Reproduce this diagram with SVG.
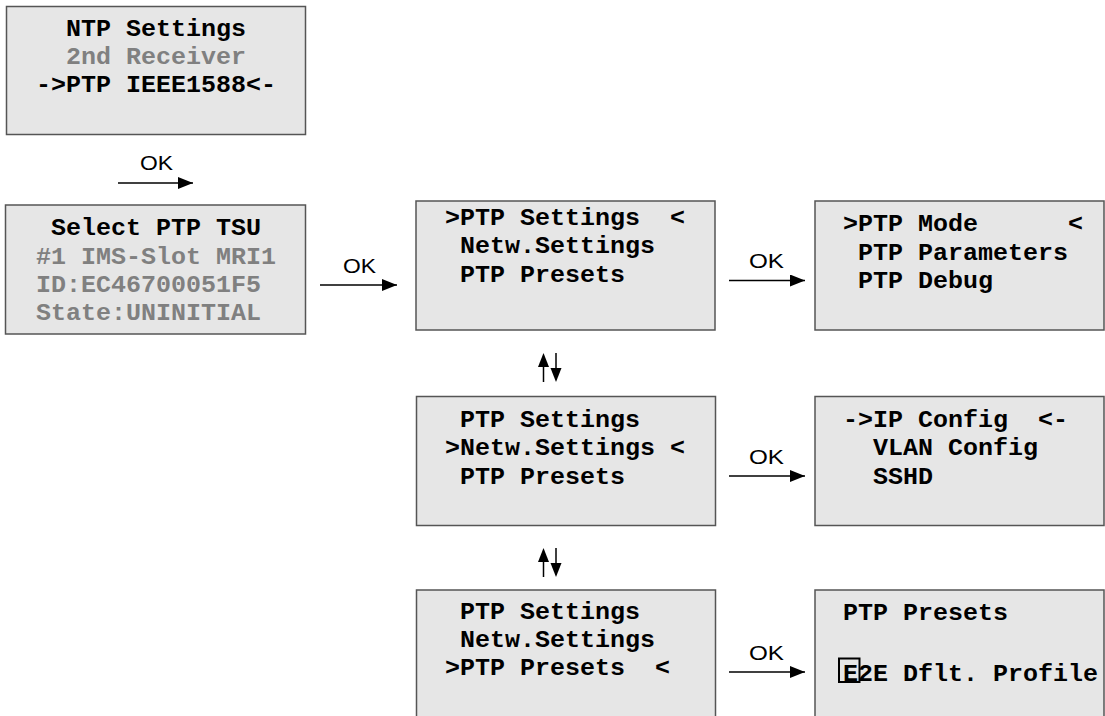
<svg xmlns="http://www.w3.org/2000/svg" width="1105" height="716" viewBox="0 0 1105 716">
<style>
.box{fill:#e6e6e6;stroke:#555;stroke-width:1.5}
.t{font-family:"Liberation Mono","Courier New",monospace;font-weight:bold;font-size:23px;fill:#000}
.g{fill:#808080}
.ok{font-family:"Liberation Sans",Arial,sans-serif;font-size:21px;fill:#000}
.ln{stroke:#000;stroke-width:1.5;fill:none}
</style>
<defs>
<marker id="ah" markerUnits="userSpaceOnUse" markerWidth="16" markerHeight="12" refX="15" refY="6" orient="auto">
<path d="M0,0 L15,6 L0,12 Z" fill="#000"/>
</marker>
</defs>
<rect width="1105" height="716" fill="#fff"/>
<g id="n1">
<rect class="box" x="6.5" y="6.5" width="299" height="128"/>
<text class="t" x="66" y="36" textLength="180" lengthAdjust="spacingAndGlyphs">NTP Settings</text>
<text class="t g" x="66" y="64" textLength="180" lengthAdjust="spacingAndGlyphs">2nd Receiver</text>
<text class="t" x="36" y="92" textLength="240" lengthAdjust="spacingAndGlyphs">-&gt;PTP IEEE1588&lt;-</text>
</g>
<g id="n2">
<rect class="box" x="5.5" y="205" width="300" height="129"/>
<text class="t" x="51" y="235" textLength="210" lengthAdjust="spacingAndGlyphs">Select PTP TSU</text>
<text class="t g" x="36" y="263.5" textLength="240" lengthAdjust="spacingAndGlyphs">#1 IMS-Slot MRI1</text>
<text class="t g" x="36" y="292" textLength="225" lengthAdjust="spacingAndGlyphs">ID:EC46700051F5</text>
<text class="t g" x="36" y="320" textLength="225" lengthAdjust="spacingAndGlyphs">State:UNINITIAL</text>
</g>
<g id="n3">
<rect class="box" x="416" y="201" width="299" height="129"/>
<text class="t" x="445" y="225" textLength="240" lengthAdjust="spacingAndGlyphs" xml:space="preserve">&gt;PTP Settings  &lt;</text>
<text class="t" x="460" y="253" textLength="195" lengthAdjust="spacingAndGlyphs">Netw.Settings</text>
<text class="t" x="460" y="282" textLength="165" lengthAdjust="spacingAndGlyphs">PTP Presets</text>
</g>
<g id="n4">
<rect class="box" x="815" y="201" width="289" height="129"/>
<text class="t" x="843" y="231" textLength="240" lengthAdjust="spacingAndGlyphs" xml:space="preserve">&gt;PTP Mode      &lt;</text>
<text class="t" x="858" y="260" textLength="210" lengthAdjust="spacingAndGlyphs">PTP Parameters</text>
<text class="t" x="858" y="288" textLength="135" lengthAdjust="spacingAndGlyphs">PTP Debug</text>
</g>
<g id="n5">
<rect class="box" x="416.5" y="396.5" width="299" height="129"/>
<text class="t" x="460" y="427" textLength="180" lengthAdjust="spacingAndGlyphs">PTP Settings</text>
<text class="t" x="445" y="455" textLength="240" lengthAdjust="spacingAndGlyphs" xml:space="preserve">&gt;Netw.Settings &lt;</text>
<text class="t" x="460" y="484" textLength="165" lengthAdjust="spacingAndGlyphs">PTP Presets</text>
</g>
<g id="n6">
<rect class="box" x="815" y="396.5" width="289" height="129"/>
<text class="t" x="843" y="427" textLength="225" lengthAdjust="spacingAndGlyphs" xml:space="preserve">-&gt;IP Config  &lt;-</text>
<text class="t" x="873" y="455" textLength="165" lengthAdjust="spacingAndGlyphs">VLAN Config</text>
<text class="t" x="873" y="484" textLength="60" lengthAdjust="spacingAndGlyphs">SSHD</text>
</g>
<g id="n7">
<rect class="box" x="416.5" y="590" width="299" height="140"/>
<text class="t" x="460" y="619" textLength="180" lengthAdjust="spacingAndGlyphs">PTP Settings</text>
<text class="t" x="460" y="647" textLength="195" lengthAdjust="spacingAndGlyphs">Netw.Settings</text>
<text class="t" x="445" y="675" textLength="225" lengthAdjust="spacingAndGlyphs" xml:space="preserve">&gt;PTP Presets  &lt;</text>
</g>
<g id="n8">
<rect class="box" x="815" y="590" width="289" height="140"/>
<text class="t" x="843" y="620" textLength="165" lengthAdjust="spacingAndGlyphs">PTP Presets</text>
<text class="t" x="843" y="681" textLength="255" lengthAdjust="spacingAndGlyphs">E2E Dflt. Profile</text>
<rect x="839" y="658.5" width="20.5" height="23.5" fill="none" stroke="#000" stroke-width="2"/>
</g>
<g id="connectors">
<line class="ln" x1="118" y1="183" x2="193" y2="183" marker-end="url(#ah)"/>
<text class="ok" x="140" y="170" textLength="33" lengthAdjust="spacingAndGlyphs">OK</text>
<line class="ln" x1="320" y1="285" x2="397" y2="285" marker-end="url(#ah)"/>
<text class="ok" x="343" y="273" textLength="33" lengthAdjust="spacingAndGlyphs">OK</text>
<line class="ln" x1="729" y1="280.5" x2="805" y2="280.5" marker-end="url(#ah)"/>
<text class="ok" x="749" y="268" textLength="35" lengthAdjust="spacingAndGlyphs">OK</text>
<line class="ln" x1="729" y1="476" x2="805" y2="476" marker-end="url(#ah)"/>
<text class="ok" x="749" y="464" textLength="35" lengthAdjust="spacingAndGlyphs">OK</text>
<line class="ln" x1="729" y1="672" x2="805" y2="672" marker-end="url(#ah)"/>
<text class="ok" x="749" y="660" textLength="35" lengthAdjust="spacingAndGlyphs">OK</text>
<g id="updown1">
<line class="ln" x1="543.5" y1="382" x2="543.5" y2="366"/>
<path d="M538,367 L549,367 L543.5,353 Z" fill="#000"/>
<line class="ln" x1="556" y1="353" x2="556" y2="369"/>
<path d="M550.5,368 L561.5,368 L556,382 Z" fill="#000"/>
</g>
<g id="updown2">
<line class="ln" x1="543.5" y1="577" x2="543.5" y2="561"/>
<path d="M538,562 L549,562 L543.5,548 Z" fill="#000"/>
<line class="ln" x1="556" y1="548" x2="556" y2="564"/>
<path d="M550.5,563 L561.5,563 L556,577 Z" fill="#000"/>
</g>
</g>
</svg>
